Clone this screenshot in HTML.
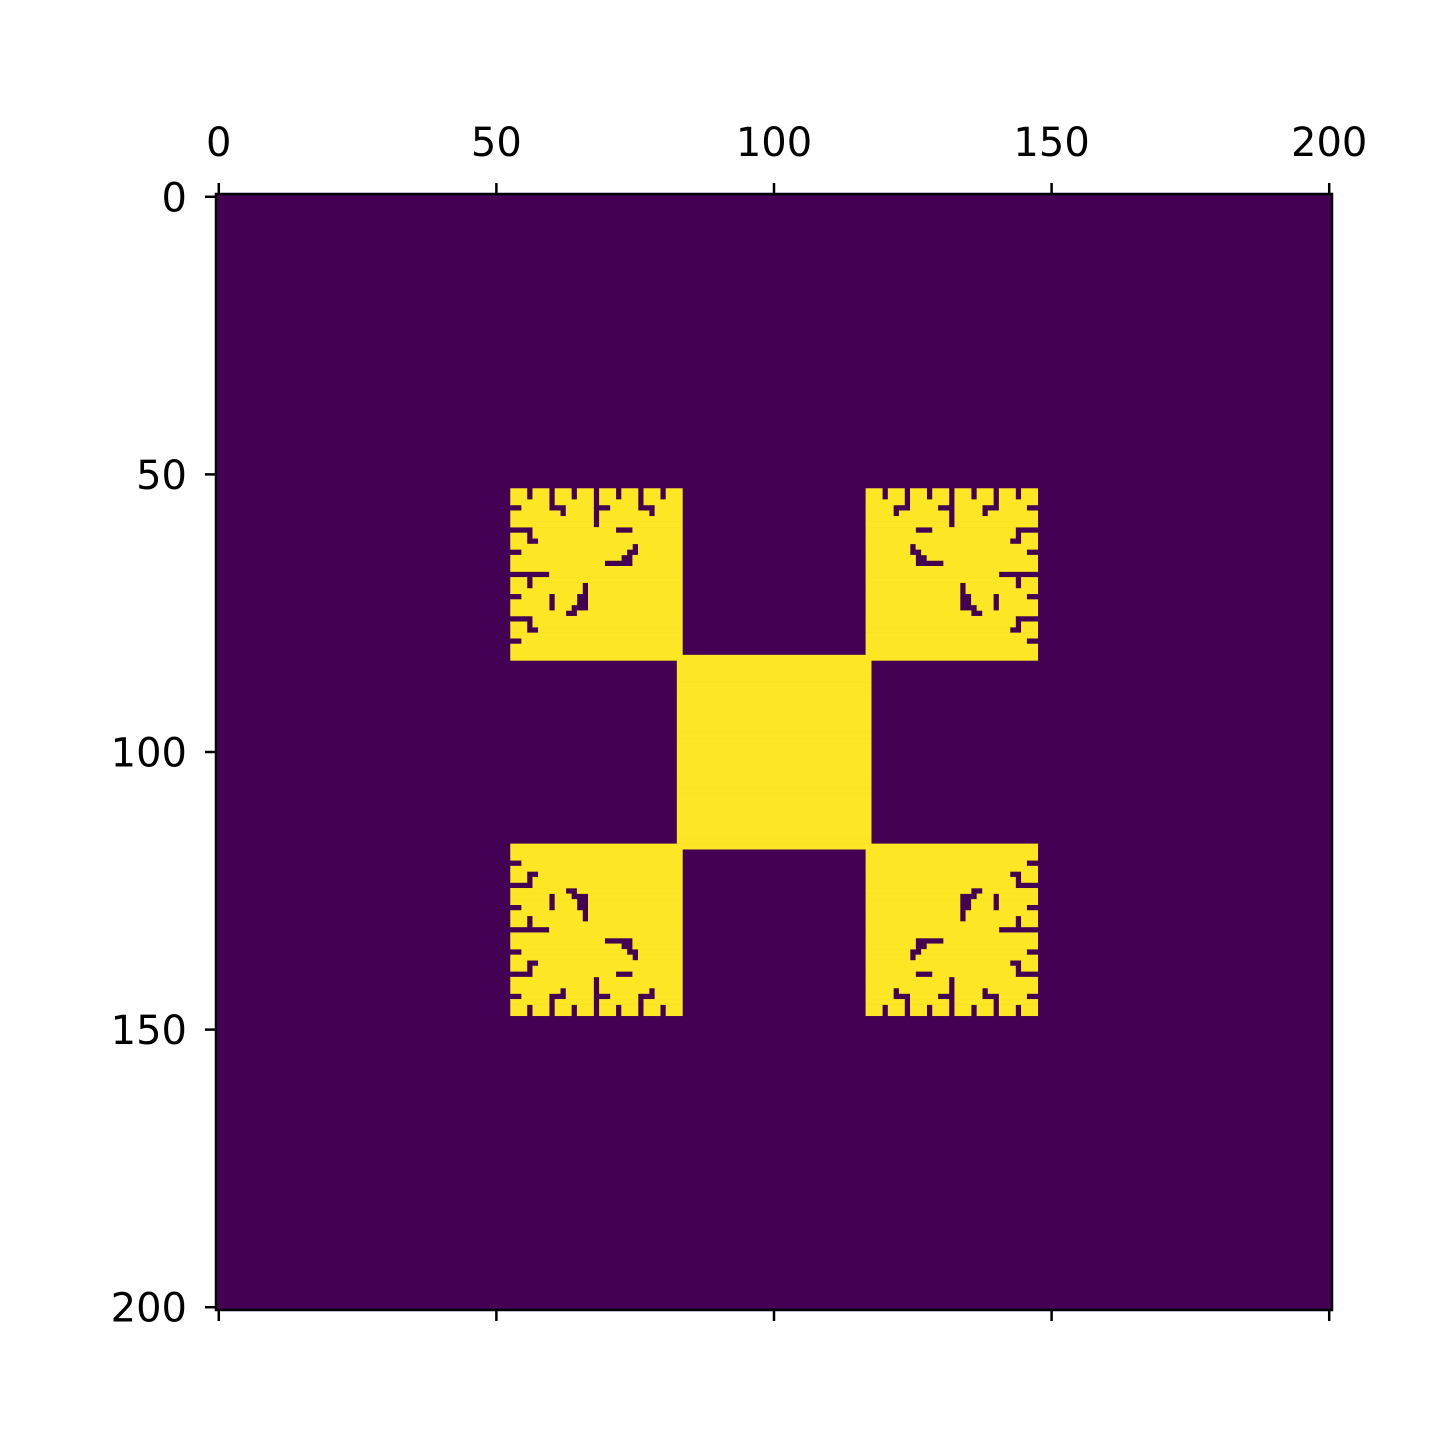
<!DOCTYPE html>
<html><head><meta charset="utf-8"><style>
html,body{margin:0;padding:0;background:#fff;}
svg text{font-family:"DejaVu Sans","Liberation Sans",sans-serif;font-size:40px;fill:#000;}
</style></head><body>
<svg id="chart" width="1440" height="1440" viewBox="0 0 1440 1440" xmlns="http://www.w3.org/2000/svg">
<g id="cells"></g>
<g id="axes"></g>
</svg>
<script>
// Data
const N = 201;
const xTicks = [0, 50, 100, 150, 200];
const yTicks = [0, 50, 100, 150, 200];
const centerBlock = [83, 117]; // inclusive cell range of central yellow square
const cornerBlock = [53, 83];  // top-left corner block range (mirrored to other corners)
// purple (0) cells inside top-left corner block, local [row, colStart, colEnd]
const holes = [
[0,3,3],[0,7,7],[0,11,11],[0,15,15],[0,19,19],[0,23,23],[0,27,27],
[1,3,3],[1,7,7],[1,11,11],[1,15,15],[1,19,19],[1,23,23],[1,27,27],
[2,7,7],[2,15,15],[2,23,23],
[3,0,1],[3,7,9],[3,15,17],[3,23,25],
[4,9,9],[4,15,15],[4,25,25],
[5,15,15],[6,15,15],
[7,0,3],[7,19,21],
[8,3,3],[9,3,4],
[10,22,22],[11,0,1],[11,21,22],[12,20,21],[13,17,21],
[15,0,6],[16,3,3],[17,3,3],[17,13,13],[18,13,13],
[19,0,1],[19,7,7],[19,12,13],[20,7,7],[20,12,13],
[21,7,7],[21,11,13],[22,10,11],
[23,0,3],[24,3,3],[25,3,4],[27,0,1]
];

const X0 = 216, Y0 = 194, W = 1116;
const cs = W / N;
const xs = v => X0 + (v + 0.5) * cs;
const ys = v => Y0 + (v + 0.5) * cs;
const NS = "http://www.w3.org/2000/svg";
const colors = ["#440154", "#fde725"];

// build matrix
const M = [];
for (let r = 0; r < N; r++) M.push(new Array(N).fill(0));
for (let r = centerBlock[0]; r <= centerBlock[1]; r++)
  for (let c = centerBlock[0]; c <= centerBlock[1]; c++) M[r][c] = 1;
const local = [];
for (let r = 0; r <= cornerBlock[1]-cornerBlock[0]; r++) local.push(new Array(cornerBlock[1]-cornerBlock[0]+1).fill(1));
holes.forEach(h => { for (let c = h[1]; c <= h[2]; c++) local[h[0]][c] = 0; });
for (let r = 0; r < local.length; r++) for (let c = 0; c < local.length; c++) {
  const R = cornerBlock[0] + r, C = cornerBlock[0] + c;
  const v = local[r][c];
  M[R][C] = v; M[R][N-1-C] = v; M[N-1-R][C] = v; M[N-1-R][N-1-C] = v;
}

const cells = document.getElementById('cells');
const bg = document.createElementNS(NS, 'rect');
bg.setAttribute('x', X0); bg.setAttribute('y', Y0); bg.setAttribute('width', W); bg.setAttribute('height', W);
bg.setAttribute('fill', colors[0]);


cells.appendChild(bg);
for (let r = 0; r < N; r++) {
  let c = 0;
  while (c < N) {
    if (M[r][c] === 1) {
      let e = c; while (e + 1 < N && M[r][e+1] === 1) e++;
      const rc = document.createElementNS(NS, 'rect');
      rc.setAttribute('x', (xs(c) - cs/2).toFixed(2));
      rc.setAttribute('y', (ys(r) - cs/2).toFixed(2));
      rc.setAttribute('width', ((e - c + 1) * cs + 0.3).toFixed(2));
      rc.setAttribute('height', (cs + 0.3).toFixed(2));
      rc.setAttribute('fill', colors[1]);
      
      
      cells.appendChild(rc);
      c = e + 1;
    } else c++;
  }
}

const axes = document.getElementById('axes');
const frame = document.createElementNS(NS, 'rect');
frame.setAttribute('x', X0); frame.setAttribute('y', Y0); frame.setAttribute('width', W); frame.setAttribute('height', W);
frame.setAttribute('fill', 'none'); frame.setAttribute('stroke', '#000'); frame.setAttribute('stroke-width', '2.5');


axes.appendChild(frame);
function line(x1,y1,x2,y2,name){
  const l = document.createElementNS(NS,'line');
  l.setAttribute('x1',x1);l.setAttribute('y1',y1);l.setAttribute('x2',x2);l.setAttribute('y2',y2);
  l.setAttribute('stroke','#000');l.setAttribute('stroke-width','2.5');
  
  
  axes.appendChild(l);
}
xTicks.forEach(t => {
  const x = xs(t);
  line(x, Y0, x, Y0-11, 'x-tick-top');
  line(x, Y0+W, x, Y0+W+11, 'x-tick-bottom');
  const tx = document.createElementNS(NS,'text');
  tx.setAttribute('x', x); tx.setAttribute('y', 156); tx.setAttribute('text-anchor','middle');
  tx.textContent = t;
  
  
  axes.appendChild(tx);
});
yTicks.forEach(t => {
  const y = ys(t);
  line(X0, y, X0-11, y, 'y-tick');
  const tx = document.createElementNS(NS,'text');
  tx.setAttribute('x', 187); tx.setAttribute('y', y + 14.5); tx.setAttribute('text-anchor','end');
  tx.textContent = t;
  
  
  axes.appendChild(tx);
});
</script>
</body></html>
